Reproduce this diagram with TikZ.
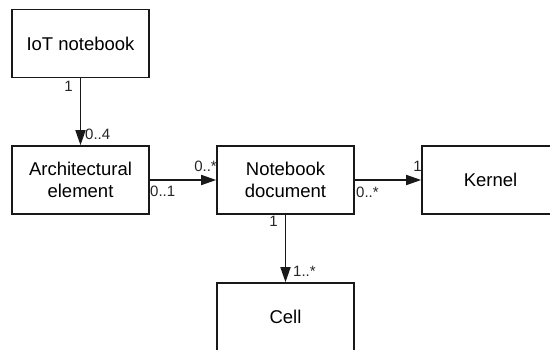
\documentclass[tikz,border=0pt]{standalone}
\usepackage{fontspec}
\setmainfont{Liberation Sans}
\usetikzlibrary{arrows.meta}
\begin{document}
\begin{tikzpicture}[x=1pt,y=-1pt,
  box/.style={draw=black!90, line width=1.6pt, fill=white, minimum width=137pt, minimum height=68pt,
    inner sep=2pt, align=center, font=\fontsize{18.5}{22}\selectfont},
  arr/.style={draw=black!90, line width=1.6pt, -{Triangle[length=15pt,width=10pt]}},
  lab/.style={inner sep=0pt, font=\fontsize{15}{17}\selectfont, text=black!85}]
\useasboundingbox (0,0) rectangle (550,350);
\clip (0,0) rectangle (550,350);
\fill[white] (0,0) rectangle (550,350);
\node[box] (iot) at (80.5,43.5) {IoT notebook};
\node[box] (arch) at (80.5,180) {Architectural\\element};
\node[box] (nb) at (285.5,180) {Notebook\\document};
\node[box] (kernel) at (490.5,180) {Kernel};
\node[box] (cell) at (285.5,317) {Cell};
\draw[arr] (iot) -- (arch);
\draw[arr] (arch) -- (nb);
\draw[arr] (nb) -- (kernel);
\draw[arr] (nb) -- (cell);
\node[lab, anchor=base east] (l1) at (73,92) {1};
\node[lab, anchor=base west] (l2) at (85,140) {0..4};
\node[lab, anchor=base east] (l3) at (217,172) {0..*};
\node[lab, anchor=base west] (l4) at (150,197) {0..1};
\node[lab, anchor=base east] (l5) at (422,172) {1};
\node[lab, anchor=base west] (l6) at (356,198) {0..*};
\node[lab, anchor=base east] (l7) at (278,227) {1};
\node[lab, anchor=base west] (l8) at (293,277) {1..*};
\end{tikzpicture}
\end{document}
